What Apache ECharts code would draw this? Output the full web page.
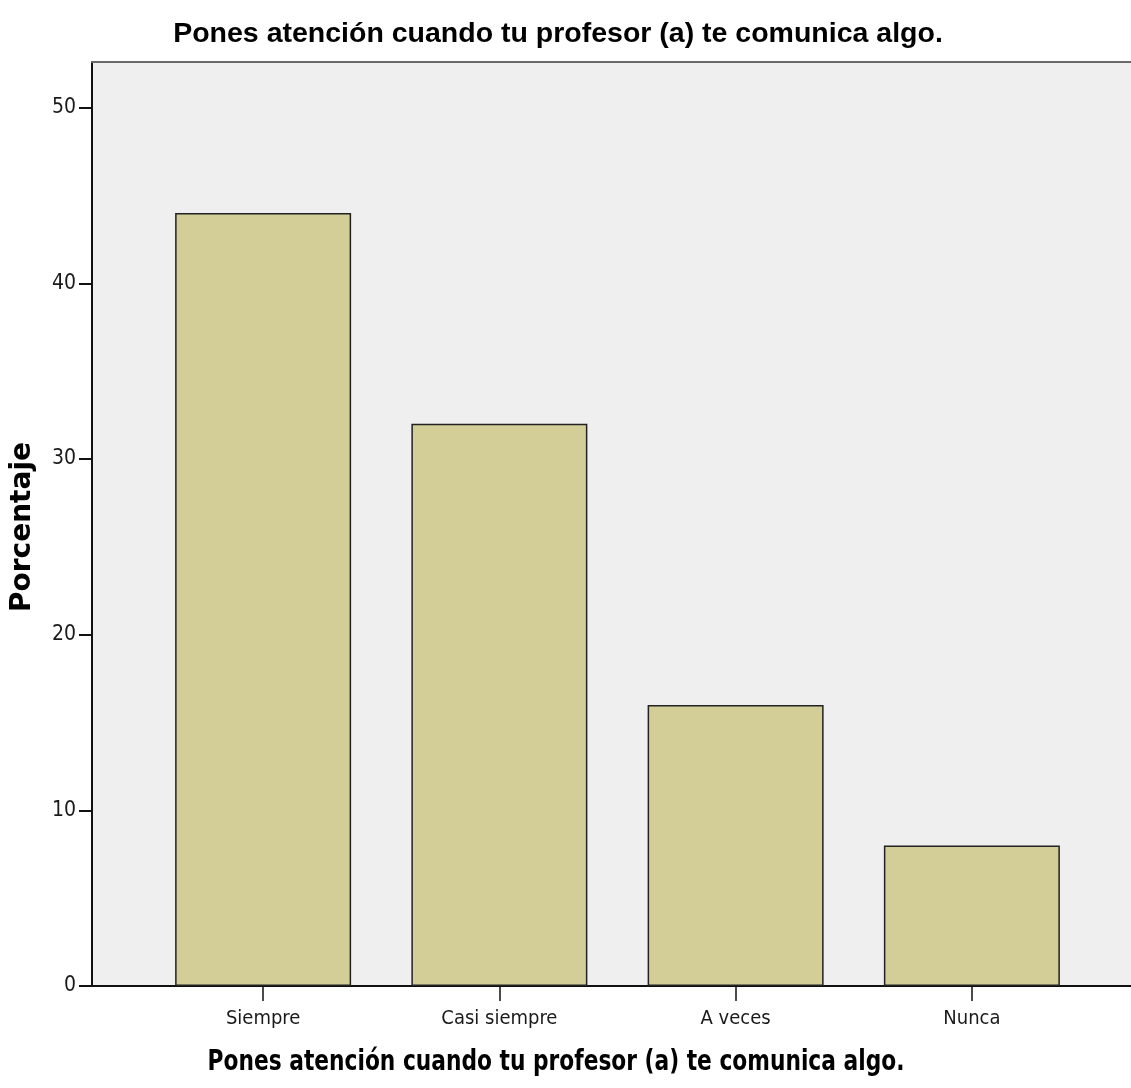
<!DOCTYPE html>
<html>
<head>
<meta charset="utf-8">
<style>
html,body{margin:0;padding:0;background:#fff;}
#chart{width:1131px;height:1088px;}
</style>
<script src="https://cdn.jsdelivr.net/npm/echarts@6/dist/echarts.min.js"></script>
</head>
<body>
<div id="chart"></div>
<script>
// ---- data ----
var chartTitle = 'Pones atención cuando tu profesor (a) te comunica algo.';
var xAxisTitle = 'Pones atención cuando tu profesor (a) te comunica algo.';
var yAxisTitle = 'Porcentaje';
var categories = ['Siempre', 'Casi siempre', 'A veces', 'Nunca'];
var percentages = [44, 32, 16, 8];
var yTicks = [0, 10, 20, 30, 40, 50];

// ---- font check ----
function hasFont(name) {
  var c = document.createElement('canvas').getContext('2d');
  var s = 'Siempre Casi 0123456789';
  c.font = '40px monospace';
  var a = c.measureText(s).width;
  c.font = '40px "' + name + '", monospace';
  var b = c.measureText(s).width;
  return a !== b;
}
var isNarrow = hasFont('Liberation Sans Narrow');
var narrow = isNarrow ? '"Liberation Sans Narrow"' :
             (hasFont('DejaVu Sans Condensed') ? '"DejaVu Sans Condensed"' : '"Liberation Sans"');
var ySize = isNarrow ? 23 : 21;
var xSize = isNarrow ? 23 : 20;

var chart = echarts.init(document.getElementById('chart'), null, {renderer: 'canvas'});

var option = {
  animation: false,
  backgroundColor: '#ffffff',
  title: {
    text: chartTitle,
    left: 553,
    textAlign: 'center',
    top: 15,
    textStyle: {fontFamily: '"Liberation Sans", Arial, sans-serif', fontSize: 28.5, fontWeight: 'bold', color: '#000'}
  },
  graphic: [
    {
      type: 'text',
      x: 556, y: 1062,
      scaleX: 0.75,
      style: {
        text: xAxisTitle,
        font: 'bold 29px "DejaVu Sans", sans-serif',
        fill: '#000',
        align: 'center',
        verticalAlign: 'middle'
      }
    },
    {
      type: 'text',
      x: 23, y: 527,
      rotation: Math.PI / 2,
      style: {
        text: yAxisTitle,
        font: 'bold 28px "DejaVu Sans", sans-serif',
        fill: '#000',
        align: 'center',
        verticalAlign: 'middle'
      }
    }
  ],
  grid: [
    {left: 92, top: 62, right: 0, bottom: 102, show: true, backgroundColor: '#efefef', borderWidth: 0},
    {left: 145, top: 62, right: 41, bottom: 102}
  ],
  xAxis: [
    {
      gridIndex: 0, type: 'value', min: 0, max: 1,
      axisLine: {show: true, lineStyle: {color: '#111', width: 2}},
      axisTick: {show: false}, axisLabel: {show: false}, splitLine: {show: false}
    },
    {
      gridIndex: 1, type: 'category', data: categories, boundaryGap: true,
      axisLine: {show: false},
      axisTick: {show: true, alignWithLabel: true, length: 15, lineStyle: {color: '#111', width: 1.5}},
      axisLabel: {margin: 23, fontFamily: narrow, fontSize: xSize, color: '#1a1a1a'},
      splitLine: {show: false}
    },
    {
      gridIndex: 0, type: 'value', min: 0, max: 1, position: 'top',
      axisLine: {show: true, lineStyle: {color: '#6a6a6a', width: 2}},
      axisTick: {show: false}, axisLabel: {show: false}, splitLine: {show: false}
    }
  ],
  yAxis: [
    {
      gridIndex: 0, type: 'value', min: 0, max: 52.6, interval: 10,
      axisLine: {show: true, lineStyle: {color: '#111', width: 2}},
      axisTick: {show: true, length: 13, customValues: yTicks, lineStyle: {color: '#111', width: 2}},
      axisLabel: {margin: 16, fontFamily: narrow, fontSize: ySize, color: '#1a1a1a', customValues: yTicks},
      splitLine: {show: false}
    },
    {
      gridIndex: 1, type: 'value', min: 0, max: 52.6, interval: 10,
      show: false, splitLine: {show: false}
    }
  ],
  series: [
    {
      type: 'bar',
      xAxisIndex: 1, yAxisIndex: 1,
      data: percentages,
      barWidth: 176,
      itemStyle: {color: '#d3ce97', borderColor: '#222', borderWidth: 1.5},
      z: 3
    }
  ]
};
chart.setOption(option);
</script>
</body>
</html>
